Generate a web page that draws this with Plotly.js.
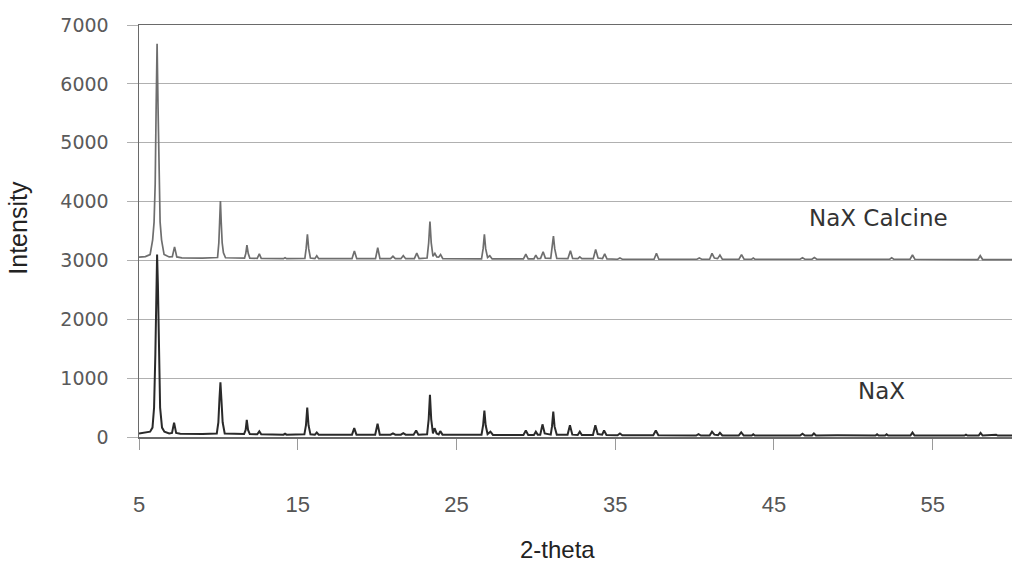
<!DOCTYPE html>
<html>
<head>
<meta charset="utf-8">
<script src="https://cdn.plot.ly/plotly-3.0.1.min.js"></script>
<style>
html,body{margin:0;padding:0;background:#fff;}
#chart{width:1012px;height:563px;}
</style>
</head>
<body>
<div id="chart"></div>
<script>
// 2-theta positions and intensities (NaX, bottom pattern)
var naxTheta = [5.0,5.4,5.7,5.85,5.95,6.03,6.09,6.14,6.19,6.25,6.33,6.45,6.6,6.9,7.08,7.21,7.34,7.6,9.0,9.9,10.0,10.07,10.13,10.19,10.27,10.4,11.62,11.72,11.79,11.87,11.98,12.45,12.58,12.7,14.1,14.2,14.3,15.42,15.52,15.6,15.68,15.8,16.08,16.2,16.32,18.42,18.56,18.7,19.88,20.03,20.17,20.85,21.0,21.15,21.5,21.65,21.8,22.3,22.46,22.6,23.15,23.25,23.33,23.41,23.52,23.62,23.75,23.88,23.98,24.12,26.58,26.68,26.76,26.84,26.96,27.14,27.3,29.22,29.37,29.52,29.88,30.0,30.12,30.28,30.42,30.56,30.94,31.02,31.1,31.18,31.32,32.0,32.15,32.3,32.64,32.77,32.9,33.6,33.75,33.9,34.18,34.3,34.45,35.15,35.3,35.45,37.4,37.56,37.72,40.1,40.25,40.4,40.95,41.1,41.25,41.48,41.6,41.75,42.78,42.94,43.1,43.6,43.7,43.8,46.65,46.8,46.95,47.4,47.52,47.65,49.0,51.4,51.5,51.6,52.0,52.1,52.2,53.6,53.73,53.86,57.0,57.1,57.2,57.9,58.02,58.15,59.0,59.1,60.0];
var naxIntensity = [60,70,90,160,500,1400,2600,3100,2600,1400,500,160,90,60,70,245,70,55,50,60,250,650,930,650,250,60,50,120,290,120,50,45,95,45,40,55,40,45,200,500,200,45,40,75,40,40,150,40,40,225,40,40,60,40,40,65,40,40,110,40,45,300,715,300,60,150,60,45,100,40,40,200,450,200,50,90,35,35,110,35,35,90,40,40,215,60,40,180,430,180,40,40,200,40,35,90,35,35,200,50,40,110,35,30,60,30,30,110,30,25,50,25,25,90,40,30,70,25,25,80,25,25,45,25,25,55,25,25,60,25,30,25,45,25,25,45,25,25,75,25,25,40,25,25,70,25,40,25,25];

// NaX Calcine, upper pattern
var calTheta = [5.0,5.4,5.7,5.86,5.95,6.02,6.08,6.14,6.2,6.26,6.33,6.42,6.58,6.9,7.1,7.24,7.38,7.7,9.0,9.95,10.03,10.08,10.13,10.18,10.24,10.32,10.45,11.65,11.73,11.8,11.88,11.98,12.45,12.58,12.7,14.1,14.2,14.3,15.45,15.53,15.61,15.69,15.8,16.08,16.2,16.32,18.42,18.57,18.72,19.9,20.04,20.18,20.85,21.0,21.15,21.5,21.65,21.8,22.35,22.5,22.65,23.15,23.25,23.33,23.41,23.52,23.64,23.76,23.88,24.0,24.14,26.58,26.68,26.76,26.84,26.96,27.1,27.25,29.22,29.37,29.52,29.88,30.0,30.12,30.3,30.46,30.6,30.94,31.03,31.11,31.19,31.32,32.02,32.18,32.32,32.65,32.77,32.9,33.62,33.77,33.92,34.2,34.34,34.48,35.15,35.3,35.45,37.45,37.6,37.75,40.15,40.3,40.45,40.95,41.1,41.25,41.45,41.6,41.75,42.8,42.96,43.12,43.6,43.7,43.8,46.65,46.8,46.95,47.4,47.55,47.7,52.3,52.42,52.55,53.58,53.73,53.88,57.85,58.0,58.15,60.0];
var calIntensity = [3055,3065,3100,3350,3650,4300,5600,6680,5600,4300,3650,3350,3100,3060,3065,3230,3060,3045,3040,3050,3300,3650,4010,3650,3300,3130,3045,3040,3120,3260,3120,3040,3035,3110,3035,3030,3045,3030,3035,3200,3445,3200,3040,3030,3080,3030,3030,3160,3030,3030,3215,3030,3030,3070,3030,3030,3080,3030,3030,3125,3030,3040,3300,3660,3300,3070,3120,3060,3055,3100,3030,3025,3200,3445,3200,3050,3080,3025,3025,3105,3025,3025,3090,3030,3035,3148,3040,3035,3200,3415,3200,3035,3030,3166,3035,3030,3060,3030,3030,3188,3040,3030,3110,3025,3020,3040,3020,3020,3120,3020,3020,3040,3020,3020,3120,3040,3030,3090,3020,3020,3100,3020,3020,3040,3020,3020,3045,3020,3020,3050,3020,3020,3045,3020,3020,3092,3020,3015,3080,3015,3015];

var seriesNames = ["NaX Calcine", "NaX"];
var xTickVals = [5, 15, 25, 35, 45, 55];
var yTickVals = [0, 1000, 2000, 3000, 4000, 5000, 6000, 7000];

var traces = [
  {x: calTheta, y: calIntensity, type: 'scatter', mode: 'lines', name: seriesNames[0],
   line: {color: '#6e6e6e', width: 1.7}, hoverinfo: 'skip'},
  {x: naxTheta, y: naxIntensity, type: 'scatter', mode: 'lines', name: seriesNames[1],
   line: {color: '#2a2a2a', width: 2}, hoverinfo: 'skip'}
];

var layout = {
  width: 1012, height: 563,
  margin: {l: 139, r: 0, t: 25, b: 126},
  paper_bgcolor: '#ffffff', plot_bgcolor: '#ffffff',
  showlegend: false,
  xaxis: {
    range: [5, 60], tickvals: xTickVals, ticktext: xTickVals.map(String),
    showgrid: false, zeroline: false,
    showline: true, mirror: true, linecolor: '#6a6a6a', linewidth: 1.5,
    ticks: 'outside', ticklen: 11, tickcolor: '#9a9a9a', tickwidth: 1,
    ticklabelstandoff: 36,
    tickfont: {family: 'Liberation Sans Narrow, Liberation Sans, Arial, sans-serif', size: 22, color: '#555'}
  },
  yaxis: {
    range: [0, 7000], tickvals: yTickVals, ticktext: yTickVals.map(String),
    showgrid: true, gridcolor: '#b0b0b0', gridwidth: 1, zeroline: false,
    showline: true, linecolor: '#6a6a6a', linewidth: 1.5,
    ticks: 'outside', ticklen: 11, tickcolor: '#b0b0b0', tickwidth: 1,
    ticklabelstandoff: 14,
    tickfont: {family: 'DejaVu Sans, sans-serif', size: 19, color: '#5a5a5a'}
  },
  annotations: [
    {text: seriesNames[0], x: 51.62, y: 3721, xref: 'x', yref: 'y', showarrow: false,
     xanchor: 'center', yanchor: 'middle', font: {family: 'DejaVu Sans, sans-serif', size: 23, color: '#333'}},
    {text: seriesNames[1], x: 51.78, y: 781, xref: 'x', yref: 'y', showarrow: false,
     xanchor: 'center', yanchor: 'middle', font: {family: 'DejaVu Sans, sans-serif', size: 23, color: '#333'}},
    {text: 'Intensity', x: -0.139, y: 3550, xref: 'paper', yref: 'y', showarrow: false, textangle: -90,
     xanchor: 'center', yanchor: 'middle', font: {family: 'Liberation Sans, Arial, sans-serif', size: 25, color: '#222'}},
    {text: '2-theta', x: 31.37, y: -0.272, xref: 'x', yref: 'paper', showarrow: false,
     xanchor: 'center', yanchor: 'middle', font: {family: 'Liberation Sans, Arial, sans-serif', size: 24, color: '#222'}}
  ]
};

Plotly.newPlot('chart', traces, layout, {displayModeBar: false, staticPlot: true});
</script>
</body>
</html>
